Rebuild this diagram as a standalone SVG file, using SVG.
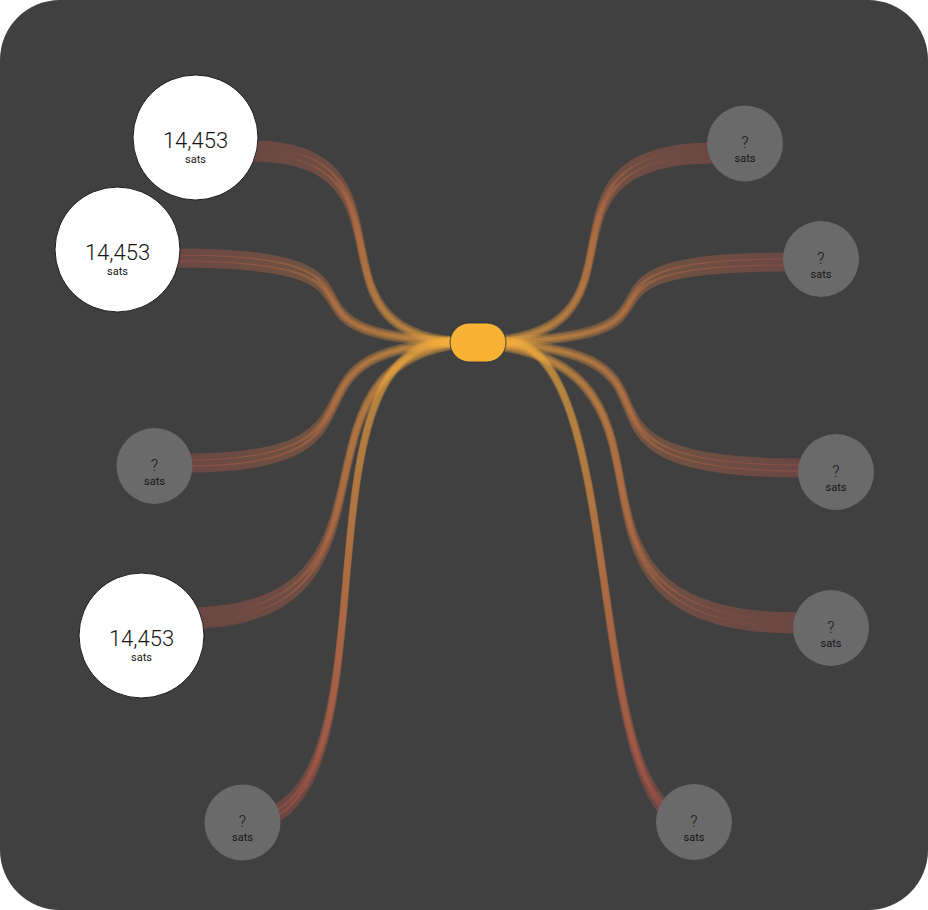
<svg xmlns="http://www.w3.org/2000/svg" width="928" height="910" viewBox="0 0 928 910">
<style>
.bg{fill:#404040}
.s{fill:none;stroke-width:7;stroke-opacity:0.3;stroke-linecap:butt}
.big{fill:#ffffff;stroke:#1a1a1a;stroke-width:1}
.small{fill:#6a6a6a}
.t{font-family:Roboto,"Liberation Sans",sans-serif;text-anchor:middle;fill:#151515}
.amt{font-size:22px;font-weight:300}
.q{font-size:16px;font-weight:300}
.u{font-size:11px}
.hub{fill:#f7b234;stroke:#1d2b45;stroke-width:0.8}
</style>
<defs>
<linearGradient id="g1" gradientUnits="userSpaceOnUse" x1="258" y1="150" x2="470" y2="342"><stop offset="0" stop-color="#cf574b"/><stop offset="1" stop-color="#f7b23b"/></linearGradient>
<linearGradient id="g2" gradientUnits="userSpaceOnUse" x1="178" y1="258" x2="480" y2="342"><stop offset="0" stop-color="#cf574b"/><stop offset="1" stop-color="#f7b23b"/></linearGradient>
<linearGradient id="g3" gradientUnits="userSpaceOnUse" x1="190" y1="463" x2="480" y2="342"><stop offset="0" stop-color="#cf574b"/><stop offset="1" stop-color="#f7b23b"/></linearGradient>
<linearGradient id="g4" gradientUnits="userSpaceOnUse" x1="200" y1="618" x2="490" y2="342"><stop offset="0" stop-color="#cf574b"/><stop offset="1" stop-color="#f7b23b"/></linearGradient>
<linearGradient id="g5" gradientUnits="userSpaceOnUse" x1="270" y1="812" x2="450" y2="342"><stop offset="0" stop-color="#cf574b"/><stop offset="1" stop-color="#f7b23b"/></linearGradient>
<linearGradient id="g6" gradientUnits="userSpaceOnUse" x1="712" y1="153" x2="472" y2="342"><stop offset="0" stop-color="#cf574b"/><stop offset="1" stop-color="#f7b23b"/></linearGradient>
<linearGradient id="g7" gradientUnits="userSpaceOnUse" x1="785" y1="262" x2="475" y2="342"><stop offset="0" stop-color="#cf574b"/><stop offset="1" stop-color="#f7b23b"/></linearGradient>
<linearGradient id="g8" gradientUnits="userSpaceOnUse" x1="798" y1="468" x2="456" y2="342"><stop offset="0" stop-color="#cf574b"/><stop offset="1" stop-color="#f7b23b"/></linearGradient>
<linearGradient id="g9" gradientUnits="userSpaceOnUse" x1="795" y1="623" x2="445" y2="342"><stop offset="0" stop-color="#cf574b"/><stop offset="1" stop-color="#f7b23b"/></linearGradient>
<linearGradient id="g10" gradientUnits="userSpaceOnUse" x1="668" y1="808" x2="506" y2="342"><stop offset="0" stop-color="#cf574b"/><stop offset="1" stop-color="#f7b23b"/></linearGradient>
</defs>
<rect class="bg" x="0" y="0" width="928" height="910" rx="60" ry="60"/>
<g id="connectors">
<g id="link-in1" stroke="url(#g1)">
<path class="s" d="M252,144 C432,144 290,340.5 470,340.5"/>
<path class="s" d="M252,151 C432,151 290,342 470,342"/>
<path class="s" d="M252,158 C432,158 290,343.5 470,343.5"/>
</g>
<g id="link-in2" stroke="url(#g2)">
<path class="s" d="M175,252 C443,252 222,340.5 490,340.5"/>
<path class="s" d="M175,258 C443,258 222,342 490,342"/>
<path class="s" d="M175,264 C443,264 222,343.5 490,343.5"/>
</g>
<g id="link-in3" stroke="url(#g3)">
<path class="s" d="M188,457 C422,457 248,340.5 480,340.5"/>
<path class="s" d="M188,463 C422,463 248,342 480,342"/>
<path class="s" d="M188,469 C422,469 248,343.5 480,343.5"/>
</g>
<g id="link-in4" stroke="url(#g4)">
<path class="s" d="M198,611 C432,603 258,340.5 490,340.5"/>
<path class="s" d="M198,618 C432,610 258,342 490,342"/>
<path class="s" d="M198,625 C432,617 258,343.5 490,343.5"/>
</g>
<g id="link-in5" stroke="url(#g5)">
<path class="s" d="M242,816 C408,816 284,340.5 450,340.5"/>
<path class="s" d="M242,822 C408,822 284,342 450,342"/>
<path class="s" d="M242,828 C408,828 284,343.5 450,343.5"/>
</g>
<g id="link-out1" stroke="url(#g6)">
<path class="s" d="M712,146 C508,146 676,340.5 472,340.5"/>
<path class="s" d="M712,153 C508,153 676,342 472,342"/>
<path class="s" d="M712,160 C508,160 676,343.5 472,343.5"/>
</g>
<g id="link-out2" stroke="url(#g7)">
<path class="s" d="M785,256 C521,256 739,340.5 475,340.5"/>
<path class="s" d="M785,262 C521,262 739,342 475,342"/>
<path class="s" d="M785,268 C521,268 739,343.5 475,343.5"/>
</g>
<g id="link-out3" stroke="url(#g8)">
<path class="s" d="M800,462 C507,462 747,340.5 456,340.5"/>
<path class="s" d="M800,468 C507,468 747,342 456,342"/>
<path class="s" d="M800,474 C507,474 747,343.5 456,343.5"/>
</g>
<g id="link-out4" stroke="url(#g9)">
<path class="s" d="M796,616 C498,616 743,340.5 447,340.5"/>
<path class="s" d="M796,623 C498,623 743,342 447,342"/>
<path class="s" d="M796,630 C498,630 743,343.5 447,343.5"/>
</g>
<g id="link-out5" stroke="url(#g10)">
<path class="s" d="M694,816 C581,816 630,340.5 506,340.5"/>
<path class="s" d="M694,822 C581,822 630,342 506,342"/>
<path class="s" d="M694,828 C581,828 630,343.5 506,343.5"/>
</g>
</g>
<g id="hub"><rect class="hub" x="450" y="323" width="56" height="39" rx="19.5" ry="19.5"/></g>
<g id="in1"><circle class="big" cx="195.5" cy="137.5" r="62.5"/><text class="t amt" x="195.5" y="147.5">14,453</text><text class="t u" x="195.5" y="162.5">sats</text></g>
<g id="in2"><circle class="big" cx="117.5" cy="249.5" r="62.5"/><text class="t amt" x="117.5" y="259.5">14,453</text><text class="t u" x="117.5" y="274.5">sats</text></g>
<g id="in3"><circle class="small" cx="154.5" cy="466" r="38"/><text class="t q" x="154.5" y="470.5">?</text><text class="t u" x="154.5" y="484.5">sats</text></g>
<g id="in4"><circle class="big" cx="141.5" cy="635.5" r="62.5"/><text class="t amt" x="141.5" y="645.5">14,453</text><text class="t u" x="141.5" y="660.5">sats</text></g>
<g id="in5"><circle class="small" cx="242.5" cy="822.5" r="38"/><text class="t q" x="242.5" y="827">?</text><text class="t u" x="242.5" y="841">sats</text></g>
<g id="out1"><circle class="small" cx="745" cy="143.5" r="38"/><text class="t q" x="745" y="148">?</text><text class="t u" x="745" y="162">sats</text></g>
<g id="out2"><circle class="small" cx="821" cy="259" r="38"/><text class="t q" x="821" y="263.5">?</text><text class="t u" x="821" y="277.5">sats</text></g>
<g id="out3"><circle class="small" cx="836" cy="472" r="38"/><text class="t q" x="836" y="476.5">?</text><text class="t u" x="836" y="490.5">sats</text></g>
<g id="out4"><circle class="small" cx="831" cy="628" r="38"/><text class="t q" x="831" y="632.5">?</text><text class="t u" x="831" y="646.5">sats</text></g>
<g id="out5"><circle class="small" cx="694" cy="822" r="38"/><text class="t q" x="694" y="826.5">?</text><text class="t u" x="694" y="840.5">sats</text></g>
</svg>
